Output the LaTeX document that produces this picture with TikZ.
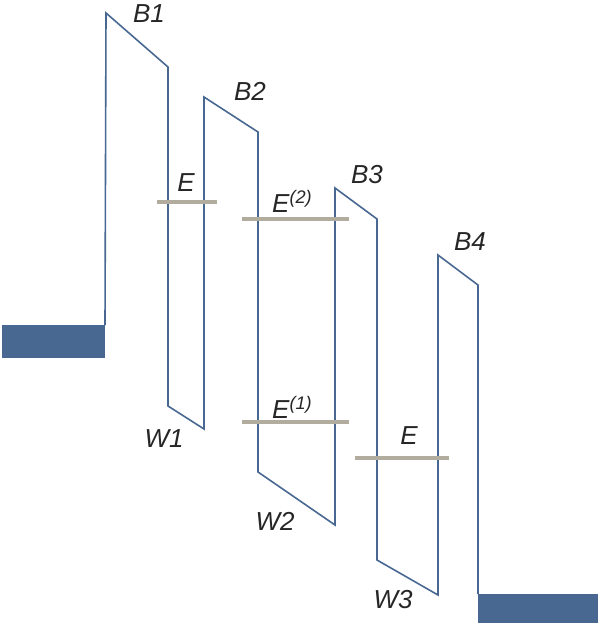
\documentclass[tikz,border=0pt]{standalone}
\usepackage{fontspec}
\setmainfont{Liberation Sans}
\usepackage{xcolor}
\usepackage{tikz}
\definecolor{bandblue}{RGB}{72,104,146}
\definecolor{levelgray}{RGB}{178,172,158}

\begin{document}
\begin{tikzpicture}[x=1pt, y=-1pt,
  band/.style={draw=bandblue, line width=1.6pt, line join=miter},
  contact/.style={fill=bandblue, draw=none},
  level/.style={draw=levelgray, line width=3.5pt},
  lbl/.style={font=\fontsize{26}{28}\selectfont\itshape, inner sep=0pt, text=black!85}
]
\useasboundingbox (0,0) rectangle (598,640);

% contacts
\fill[contact] (2,325) rectangle (105,358);
\fill[contact] (478,594) rectangle (598,623);

% band profile
\draw[band] (105,325) -- (106,13) -- (168,67) -- (168,406) -- (204,429)
  -- (204,97) -- (258,132) -- (258,472) -- (335,525)
  -- (335,188) -- (377,219) -- (377,560) -- (438,595)
  -- (438,255) -- (478,285) -- (478,594);

% levels
\draw[level] (157,202) -- (217,202);
\draw[level] (242,219) -- (349,219);
\draw[level] (242,422) -- (349,422);
\draw[level] (355,458) -- (449,458);

\node[lbl] (b1) at (149,14) {B1};
\node[lbl] (b2) at (250,91) {B2};
\node[lbl] (b3) at (367,175) {B3};
\node[lbl] (b4) at (470,242) {B4};
\node[lbl] (e1) at (186,183) {E};
\node[lbl, anchor=west] (e2) at (272,201) {E\textsuperscript{(2)}};
\node[lbl, anchor=west] (e3) at (272,407) {E\textsuperscript{(1)}};
\node[lbl] (e4) at (409,436) {E};
\node[lbl] (w1) at (164,439) {W1};
\node[lbl] (w2) at (275,521) {W2};
\node[lbl] (w3) at (393,600) {W3};
\end{tikzpicture}
\end{document}
